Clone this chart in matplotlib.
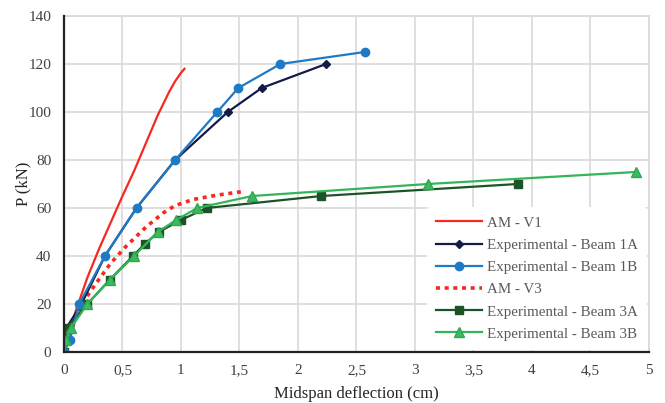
import matplotlib
matplotlib.use("Agg")
import matplotlib.pyplot as plt
from matplotlib.ticker import FuncFormatter, MultipleLocator

# Load-deflection data (deflection in cm, load in kN)
am_v1_x = [0, 0.05, 0.10, 0.20, 0.30, 0.40, 0.50, 0.60, 0.70, 0.80, 0.85, 0.90, 0.95, 1.00, 1.03]
am_v1_y = [0, 9, 17, 31, 43, 54, 65, 75.5, 87, 98.5, 103.5, 108.5, 112.8, 116.3, 118]

beam1a_x = [0, 0.02, 0.15, 0.35, 0.62, 0.95, 1.40, 1.69, 2.24]
beam1a_y = [0, 10, 20, 40, 60, 80, 100, 110, 120]

beam1b_x = [0, 0.05, 0.13, 0.35, 0.62, 0.95, 1.31, 1.49, 1.85, 2.57]
beam1b_y = [0, 5, 20, 40, 60, 80, 100, 110, 120, 125]

am_v3_x = [0, 0.05, 0.10, 0.18, 0.28, 0.40, 0.53, 0.70, 0.85, 0.95, 1.10, 1.30, 1.55]
am_v3_y = [0, 7, 14, 22, 29, 37, 44, 52, 58, 61, 63.5, 65.3, 67]

beam3a_x = [0, 0.02, 0.20, 0.39, 0.59, 0.69, 0.81, 1.00, 1.22, 2.20, 3.88]
beam3a_y = [0, 10, 20, 30, 40, 45, 50, 55, 60, 65, 70]

beam3b_x = [0, 0.02, 0.06, 0.20, 0.39, 0.60, 0.80, 0.96, 1.14, 1.61, 3.11, 4.89]
beam3b_y = [0, 5, 10, 20, 30, 40, 50, 55, 60, 65, 70, 75]

plt.rcParams['font.family'] = ['Liberation Serif', 'DejaVu Serif']

fig = plt.figure(figsize=(6.65, 4.03), dpi=100)
ax = fig.add_axes([0.0962, 0.1266, 0.8797, 0.8337])

ax.plot(am_v1_x, am_v1_y, color='#f5291f', lw=1.6, label='AM - V1', zorder=3)
ax.plot(beam1a_x, beam1a_y, color='#121c47', lw=1.6, marker='D', ms=4.5,
        label='Experimental - Beam 1A', zorder=4)
ax.plot(beam1b_x, beam1b_y, color='#1f7ac6', lw=1.6, marker='o', ms=6,
        label='Experimental - Beam 1B', zorder=5)
ax.plot(am_v3_x, am_v3_y, color='#f5291f', lw=2.6, ls=(0, (1.1, 1.3)),
        label='AM - V3', zorder=3)
ax.plot(beam3a_x, beam3a_y, color='#1d5427', lw=1.6, marker='s', ms=5.5,
        label='Experimental - Beam 3A', zorder=4)
ax.plot(beam3b_x, beam3b_y, color='#33b55a', lw=1.6, marker='^', ms=6.5,
        mfc='#3cba5e', mec='#2fa650', label='Experimental - Beam 3B', zorder=5)

ax.set_xlim(0, 5)
ax.set_ylim(0, 140)
ax.xaxis.set_major_locator(MultipleLocator(0.5))
ax.yaxis.set_major_locator(MultipleLocator(20))
ax.xaxis.set_major_formatter(FuncFormatter(lambda v, p: f"{v:g}".replace('.', ',')))

ax.grid(True, color='#d9d9d9', lw=1.2, zorder=0)
ax.set_axisbelow(True)
for side in ('top', 'right'):
    ax.spines[side].set_color('#d9d9d9')
    ax.spines[side].set_linewidth(1.2)
for side in ('left', 'bottom'):
    ax.spines[side].set_color('#222222')
    ax.spines[side].set_linewidth(1.6)
    ax.spines[side].set_zorder(6)

ax.tick_params(length=0, labelsize=11, colors='#404040', pad=9)
ax.set_xlabel('Midspan deflection (cm)', fontsize=12, color='#262626', labelpad=6)
ax.set_ylabel('P (kN)', fontsize=12, color='#262626', labelpad=-2)

leg = ax.legend(loc='lower right', bbox_to_anchor=(1.0, 0.0), borderaxespad=0.15,
                fontsize=10.8, frameon=True, facecolor='white', edgecolor='none',
                framealpha=1, handlelength=3.1, handletextpad=0.3,
                labelspacing=0.58, borderpad=0.6)
for t in leg.get_texts():
    t.set_color('#595959')
leg.set_zorder(7)

fig.savefig('out.png', dpi=100)
